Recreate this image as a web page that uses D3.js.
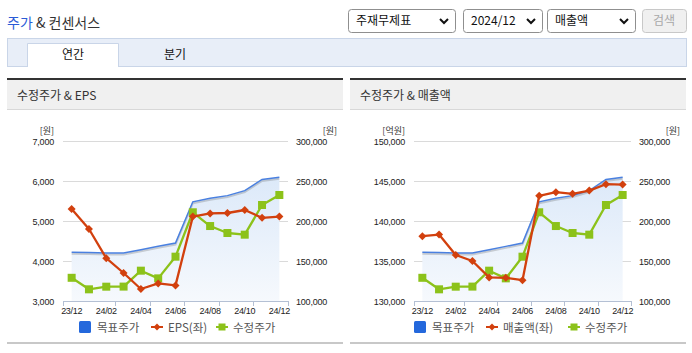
<!DOCTYPE html>
<html>
<head>
<meta charset="utf-8">
<script src="https://cdn.jsdelivr.net/npm/d3@7/dist/d3.min.js"></script>
<style>
  html, body { margin: 0; padding: 0; background: #fff; }
  svg { display: block; }
  .kr { font-family: "Noto Sans CJK KR", "Noto Sans", sans-serif; }
  .num { font-family: "Liberation Sans", Arial, sans-serif; }
</style>
</head>
<body>
<div id="chart"></div>
<script>
// 데이터
const months = ['23/12', '24/01', '24/02', '24/03', '24/04', '24/05', '24/06', '24/07', '24/08', '24/09', '24/10', '24/11', '24/12'];
const tickLabels = ['23/12', '24/02', '24/04', '24/06', '24/08', '24/10', '24/12'];
const tickMarks = ['23/12', '24/03', '24/05', '24/07', '24/09', '24/11'];
const targetPrice = [161000, 160500, 160000, 160000, 164000, 168300, 172500, 224000, 228300, 231700, 238000, 252000, 254600];
const adjPrice = [129000, 114600, 117900, 118000, 137900, 128300, 155400, 210900, 193700, 185000, 182900, 220000, 232500];
const eps = [5300, 4800, 4070, 3700, 3300, 3440, 3390, 5110, 5190, 5200, 5275, 5080, 5110];
const sales = [138100, 138300, 135750, 135000, 132950, 132900, 132600, 143150, 143600, 143400, 143800, 144600, 144550];
const epsTicks = [3000, 4000, 5000, 6000, 7000];
const salesTicks = [130000, 135000, 140000, 145000, 150000];
const priceTicks = [100000, 150000, 200000, 250000, 300000];

const W = 692, H = 353;
const BLUE = '#4a80e0', RED = '#d2400e', GREEN = '#8cc21a';

const svg = d3.select('#chart').append('svg')
    .attr('width', W).attr('height', H)
    .attr('xmlns', 'http://www.w3.org/2000/svg');

const defs = svg.append('defs');
const grad = defs.append('linearGradient').attr('id', 'areaGrad')
    .attr('x1', 0).attr('y1', 0).attr('x2', 0).attr('y2', 1);
grad.append('stop').attr('offset', '0%').attr('stop-color', '#dce9f9');
grad.append('stop').attr('offset', '100%').attr('stop-color', '#f6f9fd');

// ---- 상단 헤더 ----
const title = svg.append('text').attr('class', 'kr').attr('x', 7).attr('y', 28)
    .style('font-size', '14px');
title.append('tspan').attr('fill', '#2a5bd7').text('주가');
title.append('tspan').attr('fill', '#333').text(' & 컨센서스');

const selects = [
    { x: 348, w: 107, label: '주재무제표' },
    { x: 463, w: 79, label: '2024/12' },
    { x: 547, w: 88, label: '매출액' }
];
selects.forEach(s => {
    svg.append('rect').attr('x', s.x + 0.5).attr('y', 9.5).attr('width', s.w).attr('height', 23)
        .attr('rx', 3).attr('fill', '#fff').attr('stroke', '#8f8f8f');
    svg.append('text').attr('class', 'kr').attr('x', s.x + 8).attr('y', 25)
        .style('font-size', '12px').attr('fill', '#111').text(s.label);
    const cx = s.x + s.w - 11;
    svg.append('path').attr('d', `M${cx - 4},${19} L${cx},${23} L${cx + 4},${19}`)
        .attr('fill', 'none').attr('stroke', '#111').attr('stroke-width', 2);
});
svg.append('rect').attr('x', 642.5).attr('y', 9.5).attr('width', 44).attr('height', 23)
    .attr('rx', 3).attr('fill', '#f0f0f0').attr('stroke', '#c8c8c8');
svg.append('text').attr('class', 'kr').attr('x', 664).attr('y', 25).attr('text-anchor', 'middle')
    .style('font-size', '12px').attr('fill', '#a8a8a8').text('검색');

// 탭
svg.append('rect').attr('x', 7.5).attr('y', 38.5).attr('width', 679).attr('height', 28)
    .attr('fill', '#e8eef8').attr('stroke', '#c9d5e8');
svg.append('path').attr('d', 'M27.5,67 V43.5 H118.5 V67').attr('fill', '#fff').attr('stroke', '#c9d5e8');
svg.append('rect').attr('x', 28).attr('y', 44).attr('width', 90).attr('height', 23).attr('fill', '#fff');
svg.append('text').attr('class', 'kr').attr('x', 73).attr('y', 59).attr('text-anchor', 'middle')
    .style('font-size', '12px').attr('fill', '#111').text('연간');
svg.append('text').attr('class', 'kr').attr('x', 175).attr('y', 59).attr('text-anchor', 'middle')
    .style('font-size', '12px').attr('fill', '#111').text('분기');

// ---- 패널 ----
function drawPanel(opt) {
    const g = svg.append('g');
    const px = opt.px, pw = opt.pw;
    g.append('rect').attr('x', px).attr('y', 78).attr('width', pw).attr('height', 2).attr('fill', '#333');
    g.append('rect').attr('x', px).attr('y', 80).attr('width', pw).attr('height', 29).attr('fill', '#f0f0f0');
    g.append('rect').attr('x', px).attr('y', 109).attr('width', pw).attr('height', 1).attr('fill', '#d8d8d8');
    g.append('rect').attr('x', px).attr('y', 342).attr('width', pw).attr('height', 2).attr('fill', '#c8c8c8');
    g.append('text').attr('class', 'kr').attr('x', px + 10).attr('y', 100)
        .style('font-size', '12px').attr('fill', '#333').text(opt.title);

    const x = d3.scaleBand().domain(months).range([opt.x0, opt.x1]);
    const yL = d3.scaleLinear().domain(opt.leftDomain).range([301, 141]);
    const yR = d3.scaleLinear().domain([100000, 300000]).range([301, 141]);
    const cx = d => x(d) + x.bandwidth() / 2;

    // 그리드
    g.selectAll('.grid').data(opt.leftTicks.slice(1)).enter().append('line')
        .attr('x1', opt.x0).attr('x2', opt.x1)
        .attr('y1', d => Math.round(yL(d)) + 0.5).attr('y2', d => Math.round(yL(d)) + 0.5)
        .attr('stroke', '#dadada');

    // 왼쪽 축 라벨
    const fmt = d3.format(',');
    g.selectAll('.yl').data(opt.leftTicks).enter().append('text').attr('class', 'num')
        .attr('x', opt.x0 - 9).attr('y', d => yL(d) + 3.5).attr('text-anchor', 'end')
        .style('font-size', '9px').style('letter-spacing', '-0.2px').attr('fill', '#222').text(d => fmt(d));
    g.selectAll('.yr').data(priceTicks).enter().append('text').attr('class', 'num')
        .attr('x', opt.x1 + 8).attr('y', d => yR(d) + 3.5)
        .style('font-size', '9px').style('letter-spacing', '-0.2px').attr('fill', '#222').text(d => fmt(d));
    g.append('text').attr('class', 'kr').attr('x', opt.x0 - 9).attr('y', 134).attr('text-anchor', 'end')
        .style('font-size', '9px').attr('fill', '#333').text(opt.leftUnit);
    g.append('text').attr('class', 'kr').attr('x', px + pw - 6).attr('y', 134).attr('text-anchor', 'end')
        .style('font-size', '9px').attr('fill', '#333').text('[원]');

    // 목표주가 영역
    const area = d3.area().x(d => cx(d.m)).y0(301).y1(d => yR(d.v));
    const line = d3.line().x(d => cx(d.m)).y(d => yR(d.v));
    const tp = months.map((m, i) => ({ m, v: targetPrice[i] }));
    g.append('path').datum(tp).attr('d', area).attr('fill', 'url(#areaGrad)');
    g.append('path').datum(tp).attr('d', line).attr('fill', 'none')
        .attr('stroke', '#555').attr('stroke-opacity', 0.25).attr('stroke-width', 2)
        .attr('transform', 'translate(0,1.5)');
    g.append('path').datum(tp).attr('d', line).attr('fill', 'none')
        .attr('stroke', BLUE).attr('stroke-width', 1.5);

    // x축
    g.append('line').attr('x1', opt.x0).attr('x2', opt.x1).attr('y1', 301.5).attr('y2', 301.5)
        .attr('stroke', '#b4c0d4');
    const marks = tickMarks.map(m => x(m)).concat([opt.x1]);
    g.selectAll('.xt').data(marks).enter().append('line')
        .attr('x1', d => Math.round(d) + 0.5).attr('x2', d => Math.round(d) + 0.5)
        .attr('y1', 301).attr('y2', 306).attr('stroke', '#b4c0d4');
    g.selectAll('.xl').data(tickLabels).enter().append('text').attr('class', 'num')
        .attr('x', d => cx(d)).attr('y', 314).attr('text-anchor', 'middle')
        .style('font-size', '9px').style('letter-spacing', '-0.3px').attr('fill', '#222').text(d => d);

    // 수정주가 (우축)
    const ap = months.map((m, i) => ({ m, v: adjPrice[i] }));
    g.append('path').datum(ap).attr('d', line).attr('fill', 'none')
        .attr('stroke', GREEN).attr('stroke-width', 2.3).attr('stroke-linejoin', 'round');
    g.selectAll('.sq').data(ap).enter().append('rect')
        .attr('x', d => cx(d.m) - 4).attr('y', d => yR(d.v) - 4)
        .attr('width', 8).attr('height', 8).attr('fill', GREEN);

    // 좌축 시리즈
    const lineL = d3.line().x(d => cx(d.m)).y(d => yL(d.v));
    const ls = months.map((m, i) => ({ m, v: opt.leftData[i] }));
    g.append('path').datum(ls).attr('d', lineL).attr('fill', 'none')
        .attr('stroke', RED).attr('stroke-width', 2.3).attr('stroke-linejoin', 'round');
    g.selectAll('.dm').data(ls).enter().append('path')
        .attr('d', d => { const X = cx(d.m), Y = yL(d.v); return `M${X},${Y - 4}L${X + 4},${Y}L${X},${Y + 4}L${X - 4},${Y}Z`; })
        .attr('fill', RED);

    // 범례
    const lg = g.append('g').attr('transform', `translate(${opt.legendX},327)`);
    lg.append('rect').attr('x', 0).attr('y', -6).attr('width', 12).attr('height', 12).attr('rx', 1.5).attr('fill', '#2468dc');
    lg.append('text').attr('class', 'kr').attr('x', 18).attr('y', 4.5).style('font-size', '11.5px').attr('fill', '#555').text('목표주가');
    const r0 = opt.legendGap[0];
    lg.append('line').attr('x1', r0).attr('x2', r0 + 12).attr('y1', 0).attr('y2', 0).attr('stroke', RED).attr('stroke-width', 2);
    lg.append('path').attr('d', `M${r0 + 6},-3.5L${r0 + 9.5},0L${r0 + 6},3.5L${r0 + 2.5},0Z`).attr('fill', RED);
    lg.append('text').attr('class', 'kr').attr('x', r0 + 17).attr('y', 4.5).style('font-size', '11.5px').attr('fill', '#555').text(opt.leftLegend);
    const g0 = opt.legendGap[1];
    lg.append('line').attr('x1', g0).attr('x2', g0 + 12).attr('y1', 0).attr('y2', 0).attr('stroke', GREEN).attr('stroke-width', 2);
    lg.append('rect').attr('x', g0 + 2.5).attr('y', -3.5).attr('width', 7).attr('height', 7).attr('fill', GREEN);
    lg.append('text').attr('class', 'kr').attr('x', g0 + 17).attr('y', 4.5).style('font-size', '11.5px').attr('fill', '#555').text('수정주가');
}

drawPanel({
    px: 7, pw: 336, title: '수정주가 & EPS',
    x0: 63, x1: 288, leftDomain: [3000, 7000], leftTicks: epsTicks,
    leftData: eps, leftUnit: '[원]', leftLegend: 'EPS(좌)',
    legendX: 79, legendGap: [72, 137]
});
drawPanel({
    px: 350, pw: 336, title: '수정주가 & 매출액',
    x0: 414, x1: 631, leftDomain: [130000, 150000], leftTicks: salesTicks,
    leftData: sales, leftUnit: '[억원]', leftLegend: '매출액(좌)',
    legendX: 414, legendGap: [72, 154]
});
</script>
</body>
</html>
